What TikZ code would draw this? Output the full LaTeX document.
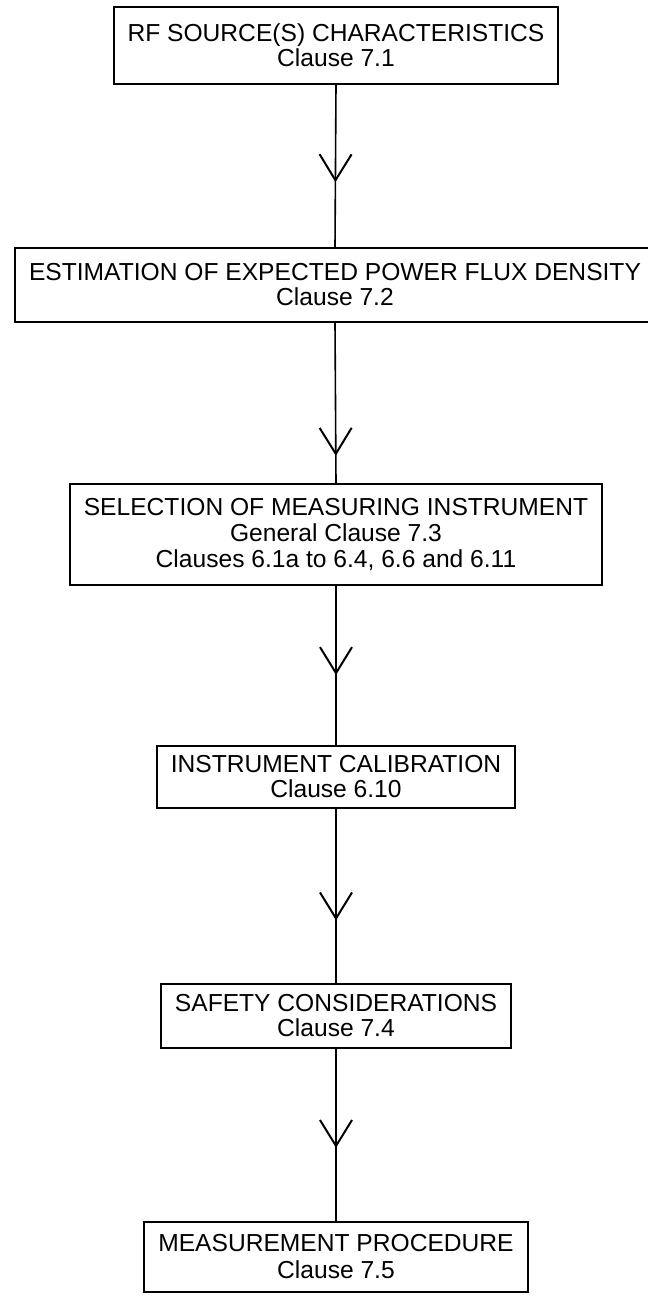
\documentclass[tikz,border=0pt]{standalone}
\usepackage{fontspec}
\setmainfont{Liberation Sans}
\usetikzlibrary{arrows.meta, decorations.markings}

\begin{document}
\begin{tikzpicture}[x=1pt, y=1pt,
    clausebox/.style={rectangle, draw=black, line width=2pt, fill=white,
                 font=\fontsize{24.6}{25}\selectfont, align=center,
                 inner xsep=14pt, inner ysep=0pt},
    flow/.style={line width=1.6pt, postaction={decorate, decoration={markings,
                 mark=at position #1 with {\arrow{Straight Barb[length=26pt, width=32pt, line width=2pt]}}}}},
  ]
    \useasboundingbox (0,0) rectangle (648,-1296);

    \node[clausebox, minimum height=77] (rf) at (336,-45.5)
      {RF SOURCE(S) CHARACTERISTICS\\Clause 7.1};
    \node[clausebox, minimum height=74] (est) at (335,-285)
      {ESTIMATION OF EXPECTED POWER FLUX DENSITY\\Clause 7.2};
    \node[clausebox, minimum height=101, font=\fontsize{24.6}{26}\selectfont] (sel) at (336,-534.5)
      {SELECTION OF MEASURING INSTRUMENT\\General Clause 7.3\\Clauses 6.1a to 6.4, 6.6 and 6.11};
    \node[clausebox, minimum height=62] (cal) at (336,-777)
      {INSTRUMENT CALIBRATION\\Clause 6.10};
    \node[clausebox, minimum height=64] (safe) at (336,-1016)
      {SAFETY CONSIDERATIONS\\Clause 7.4};
    \node[clausebox, minimum height=70, font=\fontsize{24.6}{27}\selectfont] (proc) at (336,-1257)
      {MEASUREMENT PROCEDURE\\Clause 7.5};

    \draw[flow=0.6] (rf.south) -- (est.north);
    \draw[flow=0.83] (est.south) -- (sel.north);
    \draw[flow=0.56] (sel.south) -- (cal.north);
    \draw[flow=0.64] (cal.south) -- (safe.north);
    \draw[flow=0.575] (safe.south) -- (proc.north);
\end{tikzpicture}
\end{document}
